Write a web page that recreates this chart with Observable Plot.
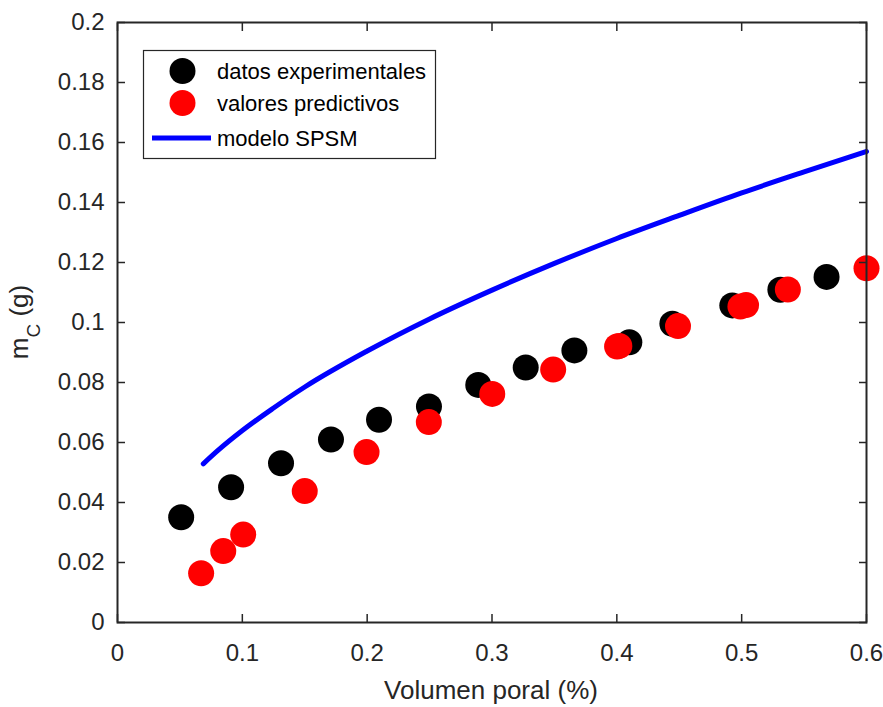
<!DOCTYPE html>
<html>
<head>
<meta charset="utf-8">
<script src="https://cdn.jsdelivr.net/npm/d3@7"></script>
<script src="https://cdn.jsdelivr.net/npm/@observablehq/plot@0.6"></script>
<style>
  html, body { margin: 0; padding: 0; background: #fff; }
  #chart { position: relative; width: 883px; height: 707px; }
  #chart svg { font-family: "Liberation Sans", Arial, sans-serif; }
  #chart g[aria-label$="tick label"] { font-size: 24px !important; fill: #262626; }
</style>
</head>
<body>
<div id="chart"></div>
<script>
// Experimental data (black)
const expX = [0.051, 0.091, 0.131, 0.171, 0.2095, 0.2495, 0.289, 0.327, 0.366, 0.41, 0.4445, 0.4925, 0.531, 0.568];
const expY = [0.0351, 0.0451, 0.0531, 0.061, 0.0676, 0.072, 0.0792, 0.085, 0.0907, 0.0934, 0.0996, 0.1057, 0.1109, 0.1152];
// Predicted values (red)
const predX = [0.067, 0.0847, 0.1007, 0.150, 0.1995, 0.2494, 0.3002, 0.349, 0.4002, 0.402, 0.449, 0.499, 0.5035, 0.537, 0.600];
const predY = [0.0164, 0.0238, 0.0293, 0.0438, 0.0568, 0.0668, 0.0762, 0.0843, 0.0920, 0.0922, 0.0988, 0.1053, 0.1058, 0.1110, 0.1181];
// SPSM model curve (blue)
const modelX = [0.0687, 0.08, 0.10, 0.125, 0.15, 0.20, 0.25, 0.30, 0.35, 0.40, 0.45, 0.50, 0.55, 0.60];
const modelY = [0.0529, 0.0572, 0.0640, 0.0715, 0.0785, 0.0905, 0.1012, 0.1108, 0.1197, 0.1280, 0.1357, 0.1432, 0.1502, 0.1570];

const xTicks = [0, 0.1, 0.2, 0.3, 0.4, 0.5, 0.6];
const yTicks = [0, 0.02, 0.04, 0.06, 0.08, 0.1, 0.12, 0.14, 0.16, 0.18, 0.2];
const legendLabels = ["datos experimentales", "valores predictivos", "modelo SPSM"];

const exp = expX.map((x, i) => ({x, y: expY[i]}));
const pred = predX.map((x, i) => ({x, y: predY[i]}));
const model = modelX.map((x, i) => ({x, y: modelY[i]}));

const axisColor = "#262626";
const fmt = d => String(+d.toFixed(2));

const plot = Plot.plot({
  width: 883,
  height: 707,
  marginLeft: 117,
  marginRight: 17,
  marginTop: 22,
  marginBottom: 85,
  style: {fontFamily: "Liberation Sans, Arial, sans-serif", color: axisColor, background: "#fff"},
  x: {domain: [0, 0.6]},
  y: {domain: [0, 0.2]},
  marks: [
    Plot.line(model, {x: "x", y: "y", stroke: "#0000ff", strokeWidth: 5, curve: "monotone-x"}),
    Plot.dot(exp, {x: "x", y: "y", r: 13, fill: "#000000"}),
    Plot.dot(pred, {x: "x", y: "y", r: 13, fill: "#ff0000"}),
    Plot.axisX({ticks: xTicks, tickSize: -8, tickFormat: fmt, tickPadding: 29, stroke: axisColor, strokeWidth: 1.5, label: null}),
    Plot.axisX({anchor: "top", ticks: xTicks, tickSize: -8, tickFormat: () => "", stroke: axisColor, strokeWidth: 1.5, label: null}),
    Plot.axisY({ticks: yTicks, tickSize: -8, tickFormat: fmt, tickPadding: 21, stroke: axisColor, strokeWidth: 1.5, label: null}),
    Plot.axisY({anchor: "right", ticks: yTicks, tickSize: -8, tickFormat: () => "", stroke: axisColor, strokeWidth: 1.5, label: null}),
    Plot.frame({stroke: axisColor, strokeWidth: 2})
  ]
});

document.getElementById("chart").appendChild(plot);

const svg = d3.select(plot);
// X label
svg.append("text")
  .attr("x", 491).attr("y", 699)
  .attr("text-anchor", "middle")
  .attr("fill", axisColor)
  .style("font-size", "26px")
  .text("Volumen poral (%)");
// Y label with subscript
const yl = svg.append("text")
  .attr("transform", "translate(28,322) rotate(-90)")
  .attr("text-anchor", "middle")
  .attr("fill", axisColor)
  .style("font-size", "26px");
yl.append("tspan").text("m");
yl.append("tspan").attr("dy", 12).style("font-size", "19px").text("C");
yl.append("tspan").attr("dy", -12).text(" (g)");

// Legend
const lg = svg.append("g").attr("text-anchor", "start");
lg.append("rect").attr("x", 143.5).attr("y", 50.5).attr("width", 292).attr("height", 108)
  .attr("fill", "#fff").attr("stroke", axisColor).attr("stroke-width", 1.2);
const rowsY = [71, 103, 138];
lg.append("circle").attr("cx", 182.5).attr("cy", rowsY[0]).attr("r", 13).attr("fill", "#000");
lg.append("circle").attr("cx", 182.5).attr("cy", rowsY[1]).attr("r", 13).attr("fill", "#ff0000");
lg.append("line").attr("x1", 152).attr("x2", 211).attr("y1", rowsY[2]).attr("y2", rowsY[2])
  .attr("stroke", "#0000ff").attr("stroke-width", 5);
legendLabels.forEach((t, i) => {
  lg.append("text").attr("x", 217).attr("y", rowsY[i]).attr("dy", "0.35em")
    .attr("text-anchor", "start")
    .attr("fill", "#000").style("font-size", "22px").text(t);
});
</script>
</body>
</html>
